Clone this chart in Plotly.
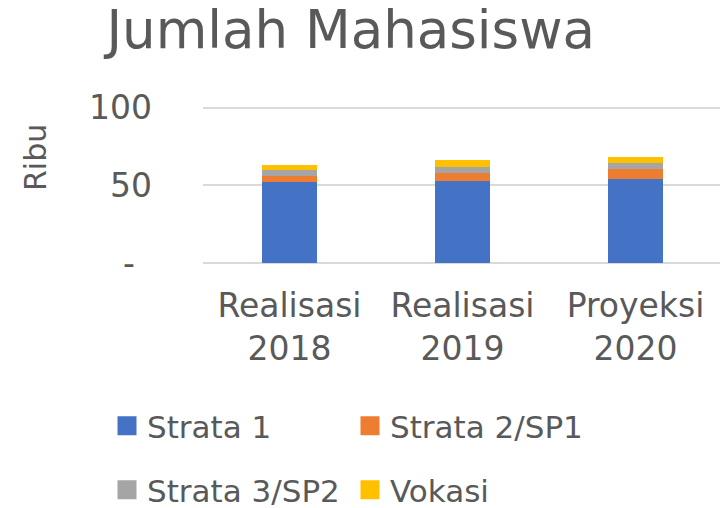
import plotly.graph_objects as go

categories = ["Realisasi<br>2018", "Realisasi<br>2019", "Proyeksi<br>2020"]
strata1 = [52, 52.5, 54]
strata2 = [4, 5.5, 6.5]
strata3 = [4, 4, 4]
vokasi = [3, 4, 4]

series = [
    ("Strata 1", strata1, "#4472C4", "legend"),
    ("Strata 2/SP1", strata2, "#ED7D31", "legend"),
    ("Strata 3/SP2", strata3, "#A5A5A5", "legend2"),
    ("Vokasi", vokasi, "#FFC000", "legend2"),
]

y_tickvals = [0, 50, 100]
y_ticktext = ["-\u00a0\u2009", "50", "100"]

TEXT = "#595959"
FONT = "DejaVu Sans"

# page body has an 8px margin, so the figure is 720x500
W, H = 720, 500
L, R, T, B = 195, 6, 98, 245
PW, PH = W - L - R, H - T - B

fig = go.Figure()

for name, vals, color, lg in series:
    fig.add_trace(go.Bar(
        x=categories, y=vals, name=name,
        marker=dict(color=color, line=dict(width=0)),
        showlegend=False,
    ))
    # legend entry with a bigger swatch
    fig.add_trace(go.Scatter(
        x=[None], y=[None], mode="markers", name=name,
        marker=dict(symbol="square", size=20, color=color,
                    line=dict(width=3, color=color)),
        legend=lg, showlegend=True,
    ))

legend_common = dict(
    orientation="h", font=dict(size=31, color=TEXT),
    xref="container", yref="container",
    x=0.1375, xanchor="left", yanchor="middle",
    entrywidth=198, entrywidthmode="pixels",
    itemsizing="trace", traceorder="normal",
    bgcolor="rgba(0,0,0,0)",
)

fig.update_layout(
    barmode="stack",
    bargap=0.68,
    width=W, height=H,
    margin=dict(l=L, r=R, t=T, b=B),
    paper_bgcolor="white",
    plot_bgcolor="white",
    font=dict(family=FONT, color=TEXT),
    title=dict(
        text="Jumlah Mahasiswa",
        font=dict(size=53, color=TEXT),
        x=0.476, xanchor="center",
        y=0.957, yanchor="middle",
        xref="container", yref="container",
    ),
    xaxis=dict(
        tickfont=dict(size=33, color=TEXT),
        showgrid=False, showline=False, ticks="",
        ticklabelstandoff=20,
        automargin=False,
    ),
    yaxis=dict(
        range=[0, 101],
        tickvals=y_tickvals, ticktext=y_ticktext,
        tickfont=dict(size=33, color=TEXT),
        showgrid=True, gridcolor="#D9D9D9", gridwidth=2,
        zeroline=True, zerolinecolor="#D9D9D9", zerolinewidth=2,
        showline=False, ticks="",
        ticklabelstandoff=50,
        automargin=False,
    ),
    legend=dict(legend_common, y=1 - 418 / H),
    legend2=dict(legend_common, y=1 - 482 / H),
    annotations=[dict(
        text="Ribu", textangle=-90,
        xref="paper", yref="paper",
        x=(27 - L) / PW, y=(H - B - 150) / PH,
        xanchor="center", yanchor="middle",
        showarrow=False, font=dict(size=30, color=TEXT),
    )],
)

fig.write_html("out.html")
